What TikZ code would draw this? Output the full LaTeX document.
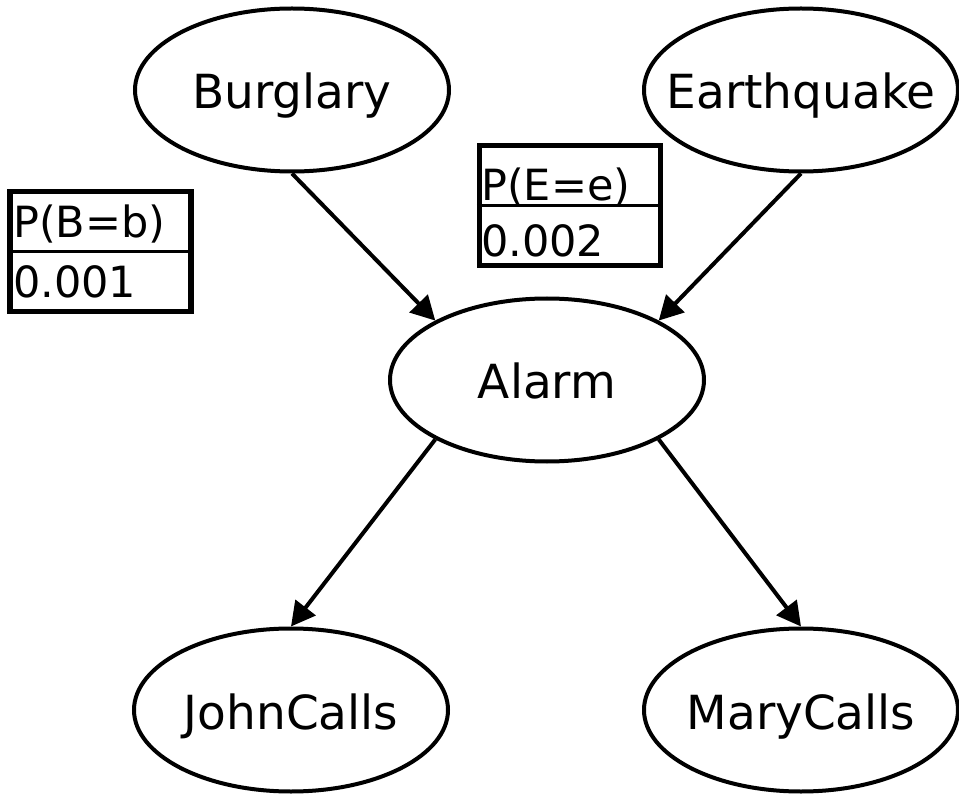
\documentclass[tikz,border=0pt]{standalone}
\usepackage{fontspec}
\setmainfont{DejaVu Sans}
\usetikzlibrary{arrows.meta,shapes.geometric}
\newcommand{\vlabel}[1]{\makebox[0pt]{#1}}

\begin{document}
\begin{tikzpicture}[x=1pt,y=-1pt,
  var/.style={ellipse,draw,line width=4pt,minimum width=314pt,minimum height=163pt,inner sep=0pt,text height=38pt,text depth=0pt,font=\fontsize{47}{50}\selectfont},
  cpt/.style={draw,line width=5.5pt,minimum width=181pt,minimum height=120pt,inner sep=0pt},
  cptline/.style={line width=3.5pt},
  cpttext/.style={anchor=base west,inner sep=0pt,font=\fontsize{43}{46}\selectfont},
  edge/.style={line width=4pt,-{Triangle[length=24pt,width=25pt]}}]
\useasboundingbox (0,0) rectangle (959,794);
\node[var] (burglary) at (292,90) {\vlabel{Burglary}};
\node[var] (earthquake) at (801,90) {\vlabel{Earthquake}};
\node[var] (alarm) at (547,380) {\vlabel{Alarm}};
\node[var] (johncalls) at (291,710) {\vlabel{JohnCalls}};
\node[var] (marycalls) at (801,710) {\vlabel{MaryCalls}};
\node[cpt] (cptB) at (100.5,251.5) {};
\draw[cptline] (cptB.west) -- (cptB.east);
\node[cpttext] (cptBhead) at (13,238) {P(B=b)};
\node[cpttext] (cptBval) at (13,298) {0.001};
\node[cpt] (cptE) at (570,205.5) {};
\draw[cptline] (cptE.west) -- (cptE.east);
\node[cpttext] (cptEhead) at (481,201) {P(E=e)};
\node[cpttext] (cptEval) at (481,257) {0.002};
\draw[edge] (burglary.south) -- (alarm.152);
\draw[edge] (earthquake.south) -- (alarm.28);
\draw[edge] (alarm.-152) -- (johncalls.north);
\draw[edge] (alarm.-28) -- (marycalls.north);
\end{tikzpicture}
\end{document}
